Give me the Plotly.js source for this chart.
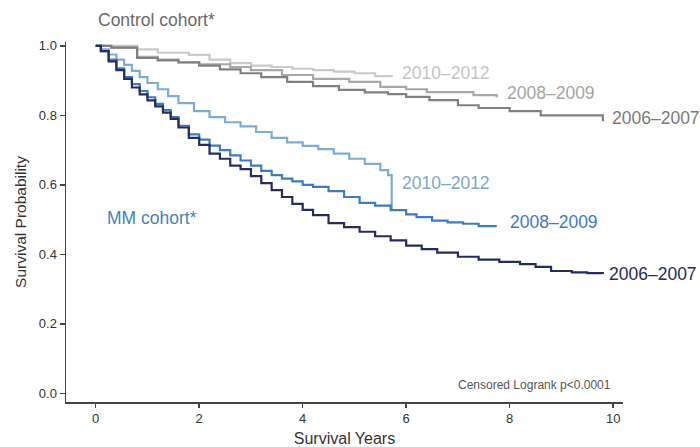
<!DOCTYPE html>
<html>
<head>
<meta charset="utf-8">
<script src="https://cdn.plot.ly/plotly-3.0.1.min.js"></script>
<style>html,body{margin:0;padding:0;background:#fff;}#chart{width:700px;height:447px;}</style>
</head>
<body>
<div id="chart"></div>
<script>
// Control cohort
const ctrl1012_t = [0, 0.8, 1.2, 1.8, 2.2, 2.6, 3.0, 3.4, 3.8, 4.2, 4.6, 5.0, 5.4, 5.74];
const ctrl1012_s = [1.0, 0.99, 0.98, 0.974, 0.96, 0.95, 0.943, 0.939, 0.934, 0.93, 0.926, 0.921, 0.913, 0.913];
const ctrl0809_t = [0, 0.3, 0.8, 1.2, 1.6, 2.0, 2.6, 3.0, 3.6, 4.2, 4.9, 5.5, 6.0, 6.4, 7.3, 7.75];
const ctrl0809_s = [1.0, 0.995, 0.968, 0.96, 0.953, 0.947, 0.939, 0.93, 0.916, 0.905, 0.896, 0.882, 0.875, 0.867, 0.858, 0.852];
const ctrl0607_t = [0, 0.3, 0.8, 1.2, 1.6, 2.0, 2.4, 2.8, 3.2, 3.7, 4.2, 4.7, 5.2, 5.65, 6.0, 6.45, 7.0, 7.4, 8.0, 8.6, 9.7, 9.8];
const ctrl0607_s = [1.0, 0.995, 0.965, 0.958, 0.952, 0.943, 0.932, 0.921, 0.91, 0.896, 0.884, 0.873, 0.866, 0.861, 0.853, 0.844, 0.829, 0.821, 0.812, 0.80, 0.80, 0.783];
// MM cohort
const mm1012_t = [0, 0.1, 0.25, 0.4, 0.55, 0.7, 0.85, 1.0, 1.2, 1.4, 1.6, 1.9, 2.2, 2.5, 2.8, 3.1, 3.4, 3.7, 4.0, 4.3, 4.6, 4.9, 5.2, 5.5, 5.65, 5.72];
const mm1012_s = [1.0, 0.99, 0.975, 0.96, 0.945, 0.928, 0.91, 0.893, 0.875, 0.855, 0.835, 0.812, 0.795, 0.78, 0.768, 0.752, 0.735, 0.722, 0.712, 0.703, 0.69, 0.675, 0.66, 0.642, 0.628, 0.527];
const mm0809_t = [0, 0.1, 0.25, 0.4, 0.55, 0.7, 0.85, 1.0, 1.15, 1.3, 1.45, 1.6, 1.8, 2.0, 2.2, 2.4, 2.6, 2.8, 3.0, 3.2, 3.4, 3.6, 3.8, 4.0, 4.2, 4.5, 4.8, 5.1, 5.4, 5.7, 6.0, 6.2, 6.5, 6.8, 7.1, 7.4, 7.75];
const mm0809_s = [1.0, 0.985, 0.96, 0.935, 0.91, 0.89, 0.87, 0.852, 0.833, 0.815, 0.795, 0.77, 0.745, 0.73, 0.713, 0.70, 0.685, 0.67, 0.655, 0.64, 0.628, 0.618, 0.61, 0.60, 0.594, 0.582, 0.565, 0.548, 0.54, 0.527, 0.515, 0.507, 0.497, 0.492, 0.488, 0.481, 0.481];
const mm0607_t = [0, 0.1, 0.25, 0.4, 0.55, 0.7, 0.85, 1.0, 1.15, 1.3, 1.45, 1.6, 1.8, 2.0, 2.2, 2.4, 2.6, 2.8, 3.0, 3.2, 3.4, 3.6, 3.8, 4.0, 4.2, 4.5, 4.8, 5.1, 5.4, 5.7, 6.0, 6.3, 6.6, 7.0, 7.4, 7.8, 8.2, 8.5, 8.8, 9.2, 9.5, 9.8];
const mm0607_s = [1.0, 0.985, 0.955, 0.93, 0.905, 0.88, 0.86, 0.843, 0.826, 0.808, 0.79, 0.765, 0.735, 0.715, 0.69, 0.675, 0.655, 0.645, 0.625, 0.605, 0.585, 0.565, 0.545, 0.528, 0.513, 0.49, 0.478, 0.465, 0.452, 0.44, 0.425, 0.415, 0.405, 0.393, 0.385, 0.378, 0.372, 0.364, 0.352, 0.348, 0.346, 0.343];

const periodLabels = ["2010\u20132012", "2008\u20132009", "2006\u20132007"];
const xTicks = [0, 2, 4, 6, 8, 10];
const yTicks = [0.0, 0.2, 0.4, 0.6, 0.8, 1.0];

const FONT = "Liberation Sans, Arial, sans-serif";
const colors = {
  c1012: "#c9c9c9", c0809: "#a8a8a8", c0607: "#808080",
  m1012: "#7faad4", m0809: "#3f7bc2", m0607: "#262d5e"
};

function tr(t, s, c) {
  return {x: t, y: s, type: "scatter", mode: "lines", line: {shape: "hv", color: c, width: 2.2}, hoverinfo: "skip", showlegend: false};
}
const data = [
  tr(ctrl1012_t, ctrl1012_s, colors.c1012),
  tr(ctrl0809_t, ctrl0809_s, colors.c0809),
  tr(ctrl0607_t, ctrl0607_s, colors.c0607),
  tr(mm1012_t, mm1012_s, colors.m1012),
  tr(mm0809_t, mm0809_s, colors.m0809),
  tr(mm0607_t, mm0607_s, colors.m0607)
];

const LBL = 17.5;
function endLabel(text, t, s, c) {
  return {x: t, y: s, xref: "x", yref: "y", text: text, showarrow: false, xanchor: "left", yanchor: "middle",
          font: {family: FONT, size: LBL, color: c}};
}
const annotations = [
  endLabel(periodLabels[0], 5.88, 0.921, "#c4c4c4"),
  endLabel(periodLabels[1], 7.91, 0.864, "#a4a4a4"),
  endLabel(periodLabels[2], 9.94, 0.792, "#7a7a7a"),
  endLabel(periodLabels[0], 5.88, 0.605, "#7ba6d0"),
  endLabel(periodLabels[1], 7.97, 0.493, "#3f79bf"),
  endLabel(periodLabels[2], 9.88, 0.343, "#252c5a"),
  {x: 0, y: 1.061, xref: "x", yref: "paper", text: "Control cohort*", showarrow: false, xanchor: "left", yanchor: "middle",
   font: {family: FONT, size: LBL, color: "#6a6a6a"}},
  {x: 0.18, y: 0.504, xref: "x", yref: "y", text: "MM cohort*", showarrow: false, xanchor: "left", yanchor: "middle",
   font: {family: FONT, size: LBL, color: "#4a80bd"}},
  {x: 10, y: 0.024, xref: "x", yref: "y", text: "Censored Logrank p<0.0001", showarrow: false, xanchor: "right", yanchor: "middle",
   font: {family: FONT, size: 12, color: "#555555"}}
];

const layout = {
  width: 700, height: 447,
  margin: {l: 66, r: 77, t: 42, b: 45},
  paper_bgcolor: "#ffffff", plot_bgcolor: "#ffffff",
  font: {family: FONT, color: "#333333"},
  xaxis: {
    range: [-0.574, 10.19], tickvals: xTicks, ticktext: xTicks.map(String),
    showgrid: false, zeroline: false, showline: true, linecolor: "#444444", linewidth: 1.5,
    ticks: "outside", ticklen: 4, tickwidth: 1.5, tickcolor: "#444444",
    tickfont: {family: FONT, size: 13, color: "#333333"},
    title: {text: "Survival Years", font: {family: FONT, size: 16, color: "#333333"}, standoff: 8},
    automargin: false
  },
  yaxis: {
    range: [-0.025, 1.011], tickvals: yTicks, ticktext: yTicks.map(v => v.toFixed(1)),
    showgrid: false, zeroline: false, showline: true, linecolor: "#444444", linewidth: 1.5,
    ticks: "outside", ticklen: 5, tickwidth: 1.5, tickcolor: "#444444",
    tickfont: {family: FONT, size: 13, color: "#333333"},
    title: {text: "Survival Probability", font: {family: FONT, size: 15.5, color: "#333333"}, standoff: 8},
    automargin: false
  },
  annotations: annotations
};
Plotly.newPlot("chart", data, layout, {displayModeBar: false, staticPlot: true});
</script>
</body>
</html>
